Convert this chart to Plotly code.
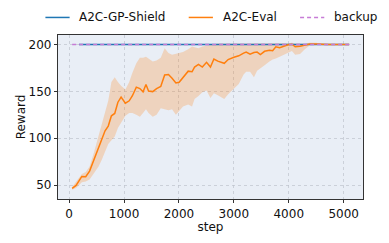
import plotly.graph_objects as go

steps = [56, 127, 232, 303, 373, 449, 537, 595, 655, 713, 771, 831, 889, 947, 1025, 1095,
         1153, 1224, 1289, 1347, 1400, 1447, 1523, 1593, 1669, 1740, 1810, 1875, 1945, 2004,
         2074, 2169, 2239, 2285, 2356, 2426, 2503, 2574, 2637, 2708, 2826, 2896, 3002, 3090,
         3178, 3225, 3296, 3366, 3424, 3483, 3560, 3648, 3706, 3765, 3835, 3912, 3988, 4058,
         4117, 4205, 4292, 4381, 4498, 4586, 4700, 4900, 5100]
eval_mean = [46.6, 49.7, 59.3, 59, 65, 77, 89, 99, 108, 113, 124, 126.5, 138.5, 144, 137.5, 140,
             145.4, 154.6, 153, 149.5, 157.3, 150.5, 149.8, 153, 155.2, 167.5, 168, 164, 159, 159.7,
             165, 171.6, 171, 176, 178.8, 176, 181, 176, 184.6, 182.3, 180, 184, 186.4, 188,
             190.8, 192, 189.8, 191.5, 192, 189.4, 192.8, 193.8, 193.5, 197.6, 196.6, 198.3, 199.7, 200.3,
             197.6, 198.3, 199.7, 200.7, 200.7, 200.3, 200, 200, 200]
eval_lo = [45, 47, 53, 54, 56, 62, 70, 77, 85, 94, 98, 102, 111, 117, 124, 127,
           127, 125, 123, 127, 131, 127, 123, 125, 132, 131, 130, 131, 125, 129,
           134, 136, 134, 142, 145, 149, 151, 143, 148, 146, 142, 147, 153, 158,
           168, 171, 171, 165, 172, 175, 178, 182, 184, 185, 187, 189, 191, 193,
           189, 190, 195, 199, 199.5, 199.5, 199.5, 199.8, 199.8]
eval_hi = [48, 54, 62, 64, 70, 84, 102, 114, 128, 140, 160, 165, 160, 156, 152, 160,
           170, 180, 186, 186, 187, 185, 182, 183, 186, 196, 191, 189, 190, 191,
           192, 195, 198, 197, 196, 198, 199, 200, 200, 201, 201, 201, 201, 201,
           201, 201, 201, 201, 201, 201, 201, 201, 201, 201, 201, 201, 201.5, 202,
           201, 201, 201, 202, 202, 201, 200.5, 200.2, 200.2]
shield_steps = [180, 5100]
shield_vals = [200, 200]
backup_steps = [56, 5100]
backup_vals = [200, 200]
x_ticks = [0, 1000, 2000, 3000, 4000, 5000]
y_ticks = [50, 100, 150, 200]
series_names = ["A2C-GP-Shield", "A2C-Eval", "backup"]
series_colors = ["#1f77b4", "#ff7f0e", "#c77cd6"]
series_dash = ["solid", "solid", "4px,3px"]

# page body has an 8px default margin, so the figure is drawn 8px in from the corner
W, H = 381, 235
ML, MR, MT, MB = 40, 26, 27, 37
PW, PH = W - ML - MR, H - MT - MB

fig = go.Figure()
fig.add_trace(go.Scatter(x=steps, y=eval_hi, mode="lines", line=dict(width=0),
                         showlegend=False, hoverinfo="skip"))
fig.add_trace(go.Scatter(x=steps, y=eval_lo, mode="lines", line=dict(width=0), fill="tonexty",
                         fillcolor="rgba(255,127,14,0.24)", showlegend=False, hoverinfo="skip"))
fig.add_trace(go.Scatter(x=shield_steps, y=shield_vals, mode="lines", name=series_names[0],
                         line=dict(color=series_colors[0], width=1.5), showlegend=False))
fig.add_trace(go.Scatter(x=steps, y=eval_mean, mode="lines", name=series_names[1],
                         line=dict(color=series_colors[1], width=1.5), showlegend=False))
fig.add_trace(go.Scatter(x=backup_steps, y=backup_vals, mode="lines", name=series_names[2],
                         line=dict(color=series_colors[2], width=1.5, dash=series_dash[2]),
                         showlegend=False))

# legend drawn manually (single row, matching reference spacing)
legend_px = [27, 175, 290]
ly = (H - MB - 8.7) / PH
for px0, name, col, dsh in zip(legend_px, series_names, series_colors, series_dash):
    x0 = (px0 - ML) / PW
    x1 = (px0 + 25 - ML) / PW
    fig.add_shape(type="line", xref="paper", yref="paper", x0=x0, x1=x1, y0=ly, y1=ly,
                  line=dict(color=col, width=1.5, dash=dsh))
    fig.add_annotation(xref="paper", yref="paper", x=(px0 + 33 - ML) / PW, y=ly,
                       text=name, showarrow=False, xanchor="left", yanchor="middle",
                       font=dict(size=12, color="#111111"))

axis_common = dict(showline=True, linecolor="#333333", linewidth=1.2, mirror=True,
                   ticks="outside", ticklen=3, tickcolor="#333333",
                   showgrid=True, gridcolor="rgba(190,195,205,0.7)", griddash="dot", gridwidth=0.8,
                   zeroline=False, tickfont=dict(size=12, color="#111111"))
fig.update_xaxes(range=[-202, 5352], tickvals=x_ticks,
                 title=dict(text="step", font=dict(size=12, color="#111111"), standoff=2),
                 **axis_common)
fig.update_yaxes(range=[35.2, 210.2], tickvals=y_ticks,
                 title=dict(text="Reward", font=dict(size=12, color="#111111"), standoff=0),
                 **axis_common)
fig.update_layout(width=W, height=H, margin=dict(l=ML, r=MR, t=MT, b=MB),
                  plot_bgcolor="#e9eef6", paper_bgcolor="white", showlegend=False,
                  font=dict(family="DejaVu Sans", size=12, color="#111111"))
fig.write_html("out.html")
